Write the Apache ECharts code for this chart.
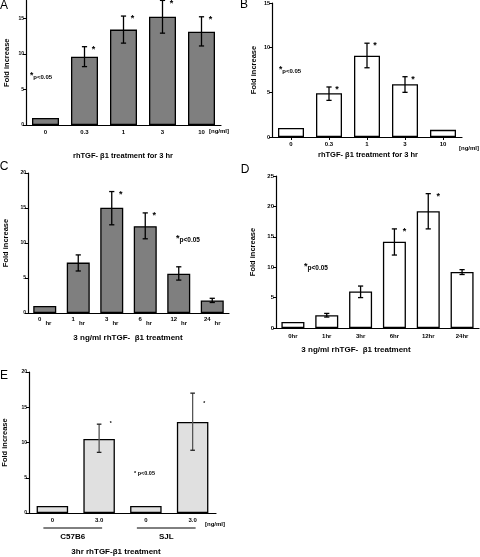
<!DOCTYPE html>
<html><head><meta charset="utf-8">
<script src="https://cdn.jsdelivr.net/npm/echarts@6/dist/echarts.min.js"></script>
<style>html,body{margin:0;padding:0;background:#fff}#c{width:480px;height:557px}</style>
</head><body><div id="c"></div>
<script>
// Panel A: rhTGF-β1 dose, 3 hr (dark bars)
const catsA = ['0', '0.3', '1', '3', '10'];
const valsA = [1.0, 9.6, 13.4, 15.2, 13.1];
const errHiA = [null, 11.0, 15.3, 17.5, 15.2];
const errLoA = [null, 8.2, 11.5, 12.9, 11.1];
const sigA = [0, 1, 1, 1, 1];
const ticksA = [0, 5, 10, 15];

// Panel B: rhTGF-β1 dose, 3 hr (white bars)
const catsB = ['0', '0.3', '1', '3', '10'];
const valsB = [1.0, 4.9, 9.1, 5.9, 0.8];
const errHiB = [null, 5.6, 10.5, 6.75, null];
const errLoB = [null, 4.1, 7.75, 5.0, null];
const sigB = [0, 1, 1, 1, 0];
const ticksB = [0, 5, 10, 15];

// Panel C: time course (dark bars)
const numsC = ['0', '1', '3', '6', '12', '24'];
const valsC = [1.0, 7.2, 15.05, 12.4, 5.6, 1.8];
const errHiC = [null, 8.3, 17.35, 14.3, 6.6, 2.1];
const errLoC = [null, 6.0, 12.6, 10.6, 4.7, 1.5];
const sigC = [0, 0, 1, 1, 0, 0];
const ticksC = [0, 5, 10, 15, 20];

// Panel D: time course (white bars)
const catsD = ['0hr', '1hr', '3hr', '6hr', '12hr', '24hr'];
const valsD = [1.0, 2.1, 6.0, 14.2, 19.2, 9.2];
const errHiD = [null, 2.4, 6.9, 16.3, 22.1, 9.6];
const errLoD = [null, 1.8, 5.0, 12.0, 16.3, 8.8];
const sigD = [0, 0, 0, 1, 1, 0];
const ticksD = [0, 5, 10, 15, 20, 25];

// Panel E: strains (light bars)
const catsE = ['0', '3.0', '0', '3.0'];
const valsE = [1.0, 10.5, 1.0, 12.9];
const errHiE = [null, 12.6, null, 17.0];
const errLoE = [null, 8.6, null, 8.9];
const starE = [null, 12.9, null, 15.7];
const ticksE = [0, 5, 10, 15, 20];
const groupsE = ['C57B6', 'SJL'];

const FONT = '"Liberation Sans", Arial, sans-serif';
const chart = echarts.init(document.getElementById('c'), null, {renderer: 'canvas'});

const grids = [
  {left: 26, top: 0.4, width: 195, height: 124.6},
  {left: 272, top: 3, width: 190, height: 134},
  {left: 28, top: 173, width: 201, height: 140},
  {left: 276, top: 176, width: 203, height: 152},
  {left: 29, top: 372, width: 187, height: 141}
];
const ymax = [17.5, 15, 20, 25, 20];
const yticks = [ticksA, ticksB, ticksC, ticksD, ticksE];
const yLabelSize = [5, 5.5, 5, 6, 5];
const nameGaps = [15, 14, 18, 19, 20];

function yAxis(i) {
  return {
    type: 'value', gridIndex: i, min: 0, max: ymax[i],
    name: 'Fold increase', nameLocation: 'middle', nameGap: nameGaps[i],
    nameTextStyle: {fontFamily: FONT, fontWeight: 'bold', fontSize: 7.5, color: '#000'},
    axisLine: {show: true, lineStyle: {color: '#000', width: 1.2}},
    axisTick: {show: true, length: 3, lineStyle: {color: '#000', width: 1}, customValues: yticks[i]},
    axisLabel: {fontFamily: FONT, fontWeight: 'bold', fontSize: yLabelSize[i], color: '#000', margin: 2, customValues: yticks[i]},
    splitLine: {show: false}
  };
}
function xAxis(i, cats, extra) {
  return Object.assign({
    type: 'category', gridIndex: i, data: cats,
    axisLine: {show: true, lineStyle: {color: '#000', width: 1.2}},
    axisTick: {show: false},
    axisLabel: {interval: 0, fontFamily: FONT, fontWeight: 'bold', fontSize: 6, color: '#000', margin: 4},
    splitLine: {show: false}
  }, extra || {});
}

function barSeries(i, vals, fill, w) {
  return {
    type: 'bar', xAxisIndex: i, yAxisIndex: i, data: vals, barWidth: w,
    itemStyle: {color: fill, borderColor: '#000', borderWidth: 1.3},
    silent: true, animation: false
  };
}
function errSeries(i, hi, lo, cap, color, capColor) {
  const data = [];
  hi.forEach((h, k) => { if (h != null) data.push([k, h, lo[k]]); });
  return {
    type: 'custom', xAxisIndex: i, yAxisIndex: i, data: data, z: 5, animation: false, silent: true,
    renderItem: function (params, api) {
      const x = api.value(0);
      const a = api.coord([x, api.value(1)]);
      const b = api.coord([x, api.value(2)]);
      const st = {stroke: color, lineWidth: 1.3};
      const cs = {stroke: capColor || color, lineWidth: 1.3};
      return {type: 'group', children: [
        {type: 'line', shape: {x1: a[0], y1: a[1], x2: b[0], y2: b[1]}, style: st},
        {type: 'line', shape: {x1: a[0] - cap, y1: a[1], x2: a[0] + cap, y2: a[1]}, style: cs},
        {type: 'line', shape: {x1: b[0] - cap, y1: b[1], x2: b[0] + cap, y2: b[1]}, style: cs}
      ]};
    }
  };
}
function starSeries(i, ys, dx, size) {
  const data = [];
  ys.forEach((y, k) => { if (y != null) data.push([k, y]); });
  return {
    type: 'custom', xAxisIndex: i, yAxisIndex: i, data: data, z: 6, animation: false, silent: true,
    renderItem: function (params, api) {
      const p = api.coord([api.value(0), api.value(1)]);
      return {type: 'text', x: p[0] + dx, y: p[1] + size * 0.3,
        style: {text: '*', fontFamily: FONT, fontWeight: 'bold', fontSize: size, fill: '#000', align: 'center', verticalAlign: 'middle'}};
    }
  };
}
const starsOf = (sig, hi) => sig.map((s, k) => s ? hi[k] : null);

const richC = {
  n: {fontFamily: FONT, fontWeight: 'bold', fontSize: 6, color: '#000', verticalAlign: 'top', padding: [0, 4, 0, 0]},
  h: {fontFamily: FONT, fontWeight: 'bold', fontSize: 6, color: '#000', verticalAlign: 'bottom'}
};

function txt(x, y, s, size, bold, align) {
  return {type: 'text', x: x, y: y, silent: true,
    style: {text: s, fontFamily: FONT, fontSize: size, fontWeight: bold ? 'bold' : 'normal', fill: '#000',
      align: align || 'center', verticalAlign: 'middle'}};
}
function note(x, y, size) {
  return {type: 'text', x: x, y: y, silent: true,
    style: {text: '{s|*}{p|p<0.05}', align: 'left', verticalAlign: 'middle',
      rich: {s: {fontFamily: FONT, fontWeight: 'bold', fontSize: size + 2.5, fill: '#000', verticalAlign: 'top'},
             p: {fontFamily: FONT, fontWeight: 'bold', fontSize: size, fill: '#000', verticalAlign: 'bottom'}}}};
}

const title1 = 'rhTGF- \u03b21 treatment for 3 hr';
const title2 = '3 ng/ml rhTGF-  \u03b21 treatment';

const option = {
  animation: false,
  backgroundColor: '#fff',
  grid: grids,
  xAxis: [
    xAxis(0, catsA),
    xAxis(1, catsB, {axisTick: {show: true, alignWithLabel: true, length: 3, lineStyle: {color: '#000', width: 1}}}),
    xAxis(2, numsC, {axisLabel: {interval: 0, margin: 3, formatter: v => '{n|' + v + '}{h|hr}', rich: richC, lineHeight: 10}}),
    xAxis(3, catsD, {axisLabel: {interval: 0, fontFamily: FONT, fontWeight: 'bold', fontSize: 6, color: '#000', margin: 5}}),
    xAxis(4, catsE)
  ],
  yAxis: [yAxis(0), yAxis(1), yAxis(2), yAxis(3), yAxis(4)],
  series: [
    barSeries(0, valsA, '#7f7f7f', 27), errSeries(0, errHiA, errLoA, 2.6, '#000'), starSeries(0, starsOf(sigA, errHiA), 9, 9),
    barSeries(1, valsB, '#fff', 26), errSeries(1, errHiB, errLoB, 2.6, '#000'), starSeries(1, starsOf(sigB, errHiB), 8, 9),
    barSeries(2, valsC, '#7f7f7f', 23), errSeries(2, errHiC, errLoC, 2.6, '#000'), starSeries(2, starsOf(sigC, errHiC), 9, 9),
    barSeries(3, valsD, '#fff', 23), errSeries(3, errHiD, errLoD, 2.6, '#000'), starSeries(3, starsOf(sigD, errHiD), 10, 9),
    barSeries(4, valsE, '#e0e0e0', 31.5), errSeries(4, errHiE, errLoE, 2.3, '#555', '#222'), starSeries(4, starE, 11.5, 5)
  ],
  graphic: [
    txt(4, 6, 'A', 12, false), txt(244, 5, 'B', 12, false), txt(4, 167, 'C', 12, false),
    txt(245, 170, 'D', 12, false), txt(4, 376, 'E', 12, false),
    txt(123, 156, title1, 7.5, true), txt(368, 155, title1, 7.5, true),
    txt(128, 337.5, title2, 8, true), txt(356, 350, title2, 8, true),
    txt(116, 551.5, '3hr rhTGF-\u03b21 treatment', 8, true),
    txt(219, 131.5, '[ng/ml]', 6, true), txt(469, 148, '[ng/ml]', 6, true), txt(215, 524, '[ng/ml]', 6, true),
    note(30, 76, 6), note(279, 70, 6), note(176, 239, 6.5), note(304, 267, 6.5),
    {type: 'text', x: 134, y: 473, silent: true, style: {text: '* p<0.05', fontFamily: FONT, fontWeight: 'bold', fontSize: 5.5, fill: '#000', align: 'left', verticalAlign: 'middle'}}
  ]
};
chart.setOption(option);

// E group underlines and labels, positioned from the category axis
const gx = k => chart.convertToPixel({xAxisIndex: 4}, k);
const gy = chart.convertToPixel({yAxisIndex: 4}, 0);
const extra = [];
groupsE.forEach((g, j) => {
  const x1 = gx(2 * j) - 9, x2 = gx(2 * j + 1) + 3;
  extra.push({type: 'line', silent: true, shape: {x1: x1, y1: gy + 15, x2: x2, y2: gy + 15}, style: {stroke: '#000', lineWidth: 1}});
  extra.push(txt((x1 + x2) / 2, gy + 23.5, g, 8, true));
});
chart.setOption({graphic: option.graphic.concat(extra)});
</script>
</body></html>
